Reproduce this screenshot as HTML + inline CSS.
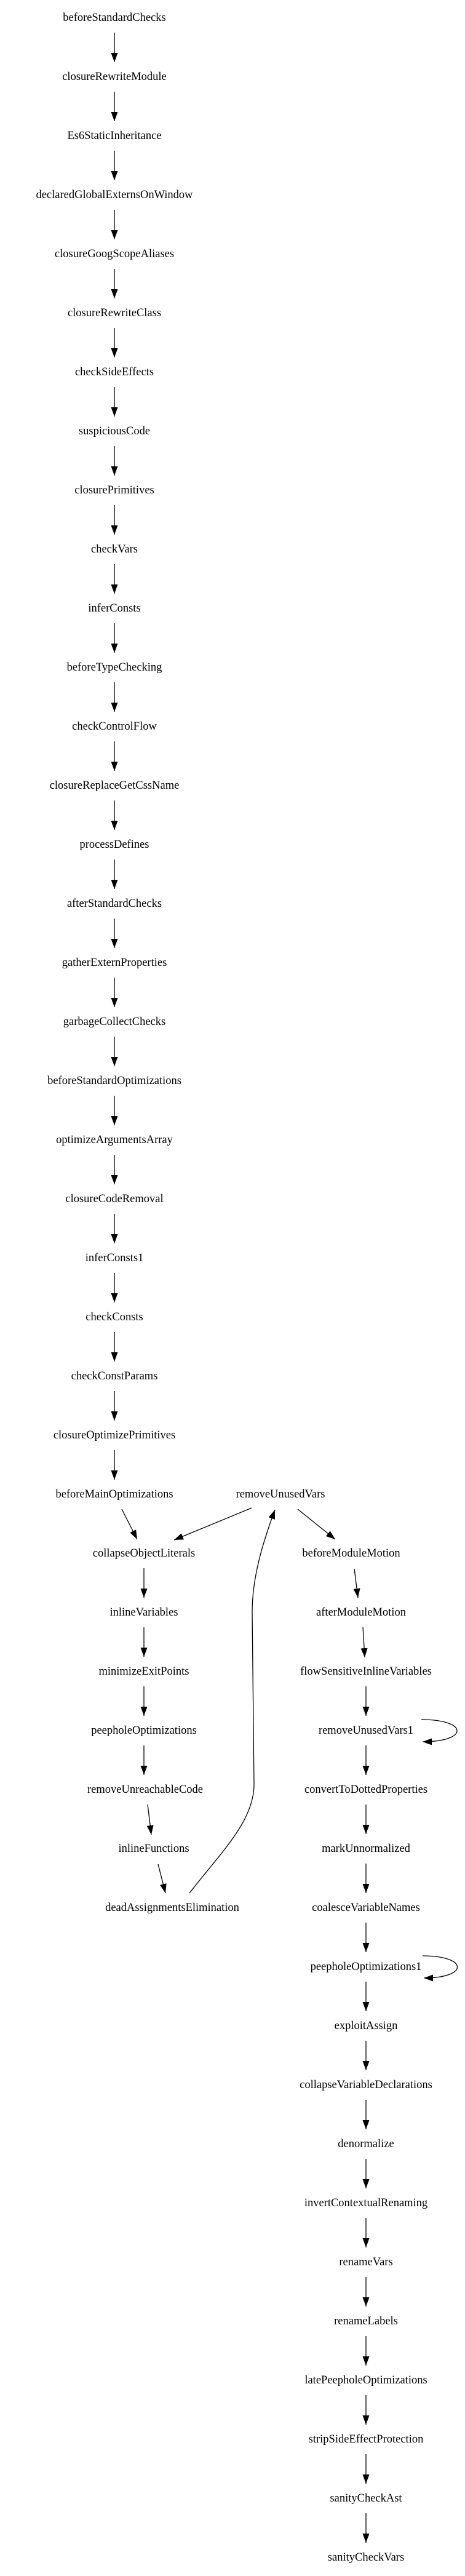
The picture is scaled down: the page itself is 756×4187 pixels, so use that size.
<!DOCTYPE html>
<html><head><meta charset="utf-8"><style>
html,body{margin:0;padding:0;background:#fff;}
svg{display:block;}
text{font-family:"Liberation Serif",serif;font-size:18.5px;fill:#000;text-anchor:middle;}
</style></head><body>
<svg width="756" height="4187" viewBox="0 0 756 4187" xmlns="http://www.w3.org/2000/svg">
<defs><marker id="a" viewBox="0 0 15 11" refX="15" refY="5.5" markerWidth="15" markerHeight="11" orient="auto" markerUnits="userSpaceOnUse"><path d="M0,0 L15,5.5 L0,11 z" fill="#000"/></marker></defs>
<g stroke="#000" stroke-width="1.3" fill="none" marker-end="url(#a)">
<line x1="186" y1="53" x2="186" y2="101"/>
<line x1="186" y1="149" x2="186" y2="197"/>
<line x1="186" y1="245" x2="186" y2="293"/>
<line x1="186" y1="341" x2="186" y2="389"/>
<line x1="186" y1="437" x2="186" y2="485"/>
<line x1="186" y1="533" x2="186" y2="581"/>
<line x1="186" y1="629" x2="186" y2="677"/>
<line x1="186" y1="725" x2="186" y2="773"/>
<line x1="186" y1="821" x2="186" y2="869"/>
<line x1="186" y1="917" x2="186" y2="965"/>
<line x1="186" y1="1013" x2="186" y2="1061"/>
<line x1="186" y1="1109" x2="186" y2="1157"/>
<line x1="186" y1="1205" x2="186" y2="1253"/>
<line x1="186" y1="1301" x2="186" y2="1349"/>
<line x1="186" y1="1397" x2="186" y2="1445"/>
<line x1="186" y1="1493" x2="186" y2="1541"/>
<line x1="186" y1="1589" x2="186" y2="1637"/>
<line x1="186" y1="1685" x2="186" y2="1733"/>
<line x1="186" y1="1781" x2="186" y2="1829"/>
<line x1="186" y1="1877" x2="186" y2="1925"/>
<line x1="186" y1="1973" x2="186" y2="2021"/>
<line x1="186" y1="2069" x2="186" y2="2117"/>
<line x1="186" y1="2165" x2="186" y2="2213"/>
<line x1="186" y1="2261" x2="186" y2="2309"/>
<line x1="186" y1="2357" x2="186" y2="2405"/>
<line x1="198" y1="2453" x2="223" y2="2502"/>
<line x1="409" y1="2451" x2="283" y2="2503"/>
<line x1="484" y1="2453" x2="545" y2="2502"/>
<line x1="234" y1="2549" x2="234" y2="2597"/>
<line x1="234" y1="2645" x2="234" y2="2693"/>
<line x1="234" y1="2741" x2="234" y2="2789"/>
<line x1="234" y1="2837" x2="234" y2="2885"/>
<line x1="240" y1="2933" x2="246" y2="2982"/>
<line x1="257" y1="3030" x2="269" y2="3077"/>
<path d="M308,3077 C360,3010 413,2960 413,2900 L410,2620 C410,2560 430,2500 447,2454"/>
<line x1="576" y1="2550" x2="582" y2="2597"/>
<line x1="590" y1="2645" x2="593" y2="2694"/>
<line x1="595" y1="2741" x2="595" y2="2789"/>
<line x1="595" y1="2837" x2="595" y2="2885"/>
<line x1="595" y1="2933" x2="595" y2="2981"/>
<line x1="595" y1="3029" x2="595" y2="3077"/>
<line x1="595" y1="3125" x2="595" y2="3173"/>
<line x1="595" y1="3221" x2="595" y2="3269"/>
<line x1="595" y1="3317" x2="595" y2="3365"/>
<line x1="595" y1="3413" x2="595" y2="3461"/>
<line x1="595" y1="3509" x2="595" y2="3557"/>
<line x1="595" y1="3605" x2="595" y2="3653"/>
<line x1="595" y1="3701" x2="595" y2="3749"/>
<line x1="595" y1="3797" x2="595" y2="3845"/>
<line x1="595" y1="3893" x2="595" y2="3941"/>
<line x1="595" y1="3989" x2="595" y2="4037"/>
<line x1="595" y1="4085" x2="595" y2="4133"/>
<path d="M685,2795 C762,2795 762,2831 687,2831"/>
<path d="M687,3179 C762,3179 762,3215 689,3215"/>
</g>
<g>
<text x="186" y="34">beforeStandardChecks</text>
<text x="186" y="130">closureRewriteModule</text>
<text x="186" y="226">Es6StaticInheritance</text>
<text x="186" y="322">declaredGlobalExternsOnWindow</text>
<text x="186" y="418">closureGoogScopeAliases</text>
<text x="186" y="514">closureRewriteClass</text>
<text x="186" y="610">checkSideEffects</text>
<text x="186" y="706">suspiciousCode</text>
<text x="186" y="802">closurePrimitives</text>
<text x="186" y="898">checkVars</text>
<text x="186" y="994">inferConsts</text>
<text x="186" y="1090">beforeTypeChecking</text>
<text x="186" y="1186">checkControlFlow</text>
<text x="186" y="1282">closureReplaceGetCssName</text>
<text x="186" y="1378">processDefines</text>
<text x="186" y="1474">afterStandardChecks</text>
<text x="186" y="1570">gatherExternProperties</text>
<text x="186" y="1666">garbageCollectChecks</text>
<text x="186" y="1762">beforeStandardOptimizations</text>
<text x="186" y="1858">optimizeArgumentsArray</text>
<text x="186" y="1954">closureCodeRemoval</text>
<text x="186" y="2050">inferConsts1</text>
<text x="186" y="2146">checkConsts</text>
<text x="186" y="2242">checkConstParams</text>
<text x="186" y="2338">closureOptimizePrimitives</text>
<text x="186" y="2434">beforeMainOptimizations</text>
<text x="456" y="2434">removeUnusedVars</text>
<text x="234" y="2530">collapseObjectLiterals</text>
<text x="234" y="2626">inlineVariables</text>
<text x="234" y="2722">minimizeExitPoints</text>
<text x="234" y="2818">peepholeOptimizations</text>
<text x="236" y="2914">removeUnreachableCode</text>
<text x="250" y="3010">inlineFunctions</text>
<text x="280" y="3106">deadAssignmentsElimination</text>
<text x="571" y="2530">beforeModuleMotion</text>
<text x="587" y="2626">afterModuleMotion</text>
<text x="595" y="2722">flowSensitiveInlineVariables</text>
<text x="595" y="2818">removeUnusedVars1</text>
<text x="595" y="2914">convertToDottedProperties</text>
<text x="595" y="3010">markUnnormalized</text>
<text x="595" y="3106">coalesceVariableNames</text>
<text x="595" y="3202">peepholeOptimizations1</text>
<text x="595" y="3298">exploitAssign</text>
<text x="595" y="3394">collapseVariableDeclarations</text>
<text x="595" y="3490">denormalize</text>
<text x="595" y="3586">invertContextualRenaming</text>
<text x="595" y="3682">renameVars</text>
<text x="595" y="3778">renameLabels</text>
<text x="595" y="3874">latePeepholeOptimizations</text>
<text x="595" y="3970">stripSideEffectProtection</text>
<text x="595" y="4066">sanityCheckAst</text>
<text x="595" y="4162">sanityCheckVars</text>
</g>
</svg>
</body></html>
